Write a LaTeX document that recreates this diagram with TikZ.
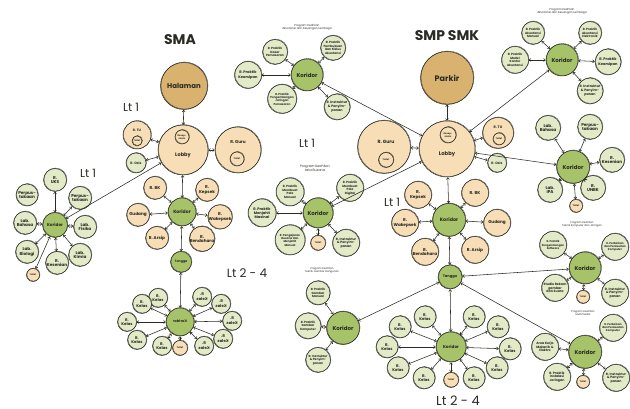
\documentclass[tikz,border=0pt]{standalone}
\usepackage{fontspec}
\usepackage{graphicx}
\setmainfont{Poppins}
\usetikzlibrary{arrows.meta}
\definecolor{gfill}{HTML}{E3EAC8}
\definecolor{kfill}{HTML}{A7C36A}
\definecolor{tfill}{HTML}{F7DEB6}
\definecolor{hfill}{HTML}{D9B26F}
\definecolor{ink}{HTML}{2B2B25}
\newcommand\myfs[2]{\fontsize{#1}{#2}\selectfont}
\newcommand\mir[1]{\reflectbox{\begin{tabular}{@{}c@{}}#1\end{tabular}}}
\tikzset{
  base/.style={circle, draw=ink, line width=0.5pt, inner sep=0pt, align=center, text=ink,
    node font=\bfseries, font=\myfs{3}{3.5},
    postaction={draw=ink, line width=0.3pt, transform canvas={shift={(0.5pt,0.45pt)}}}},
  gn/.style={base, fill=gfill},
  tn/.style={base, fill=tfill},
  hn/.style={base, fill=hfill, font=\myfs{7.5}{8}},
  kn/.style={base, fill=kfill, font=\myfs{5.5}{6}},
  ks/.style={base, fill=kfill, font=\myfs{4.2}{4.8}},
  big/.style={font=\myfs{4.2}{4.7}},
  kel/.style={font=\myfs{3.9}{4.3}},
  tiny/.style={font=\myfs{2.3}{2.7}},
  lab/.style={inner sep=0pt, text=ink, align=center},
  ttl/.style={lab, font=\myfs{2.8}{3.3}},
  lt/.style={lab, font=\myfs{11.5}{12}},
  head/.style={lab, font=\myfs{14}{16}\bfseries},
  arr/.style={{Straight Barb[length=1.8pt,width=3pt]}-{Straight Barb[length=1.8pt,width=3pt]},
    draw=ink, line width=0.55pt}
}
\begin{document}
\begin{tikzpicture}[x=1pt,y=-1pt]
\useasboundingbox (0,0) rectangle (630,409);
\fill[white] (0,0) rectangle (630,409);

% ================= SMA =================
\node[head] (tSMA) at (180,40) {SMA};
\node[lt] (lt1a) at (131,107) {Lt 1};
\node[lt] (lt1b) at (88,173) {Lt 1};
\node[lab, font=\myfs{12}{13}] (lt24a) at (247,273) {Lt 2 - 4};

\node[hn, minimum size=47pt, font=\myfs{7}{8}] (hal) at (184,86) {Halaman};
\node[tn, minimum size=50pt] (lobA) at (183,150) {};
\node[tn, minimum size=14pt, tiny] (resA) at (182,137) {Resep-\\sionis};
\node[lab, font=\myfs{5}{5.5}\bfseries] (lobAt) at (183,155) {Lobby};
\node[tn, minimum size=28pt] (tuA) at (137,135) {};
\node[lab, font=\myfs{3.3}{3.8}\bfseries] (tuAt) at (137,130) {R. TU};
\node[tn, minimum size=10pt, tiny] (tuAw) at (137,141) {Toilet};
\node[gn, minimum size=20pt, font=\myfs{3.3}{3.8}] (osA) at (136,163) {R. Osis};
\node[tn, minimum size=46pt] (guA) at (238,150) {};
\node[lab, font=\myfs{4.2}{4.8}\bfseries] (guAt) at (238,142) {R. Guru};
\node[tn, minimum size=14pt, tiny] (guAw) at (237,159) {Toilet};

% left Lt1 cluster
\node[ks, minimum size=25pt] (korL) at (55,225) {Koridor};
\node[gn, minimum size=23pt, big] (uks) at (55,180) {R.\\UKS};
\node[gn, minimum size=23pt, big] (perR) at (80,198) {Perpus-\\takaan};
\node[gn, minimum size=22pt, big] (perL) at (27,195) {Perpus-\\takaan};
\node[gn, minimum size=23pt, big] (bahA) at (25,223) {Lab.\\Bahasa};
\node[gn, minimum size=23pt, big] (fisA) at (85,227) {Lab.\\Fisika};
\node[gn, minimum size=23pt, big] (bioA) at (27,252) {Lab.\\Biologi};
\node[gn, minimum size=23pt, big] (kesA) at (57,263) {R.\\Kesenian};
\node[gn, minimum size=23pt, big] (kimA) at (80,255) {Lab.\\Kimia};
\node[tn, minimum size=13pt, tiny] (toiL) at (33,275) {Toilet};

% SMA Lt1 koridor
\node[ks, minimum size=28pt, font=\myfs{4.6}{5}] (korA) at (182,212) {Koridor};
\node[tn, minimum size=23pt, big] (bkA) at (155,188) {R. BK};
\node[tn, minimum size=23pt, big] (kepA) at (207,190) {R.\\Kepsek};
\node[tn, minimum size=23pt, big] (gudA) at (138,215) {Gudang};
\node[tn, minimum size=23pt, big] (wakA) at (220,217) {R.\\Wakepsek};
\node[tn, minimum size=23pt, big] (arsA) at (157,238) {R. Arsip};
\node[tn, minimum size=23pt, big] (benA) at (202,239) {R.\\Bendahara};
\node[ks, minimum size=21pt, font=\myfs{3.2}{3.6}] (tanA) at (181,262) {Tangga};

% SMA Lt2-4
\node[ks, minimum size=28pt, font=\myfs{3.6}{4}] (korB) at (180,322) {\mir{Koridor}};
\node[gn, minimum size=19pt, kel] (ka1) at (158,298) {R.\\Kelas};
\node[gn, minimum size=19pt, kel] (ka2) at (142,304) {R.\\Kelas};
\node[gn, minimum size=19pt, kel] (ka3) at (127,322) {R.\\Kelas};
\node[gn, minimum size=19pt, kel] (ka4) at (137,340) {R.\\Kelas};
\node[gn, minimum size=19pt, kel] (ka5) at (162,346) {R.\\Kelas};
\node[tn, minimum size=15pt, tiny] (toiB) at (180,348) {Toilet};
\node[gn, minimum size=19pt, kel] (ka6) at (202,297) {\mir{R.\\Kelas}};
\node[gn, minimum size=19pt, kel] (ka7) at (221,304) {\mir{R.\\Kelas}};
\node[gn, minimum size=19pt, kel] (ka8) at (232,321) {\mir{R.\\Kelas}};
\node[gn, minimum size=19pt, kel] (ka9) at (223,339) {\mir{R.\\Kelas}};
\node[gn, minimum size=19pt, kel] (ka10) at (204,346) {\mir{R.\\Kelas}};

% ================= SMP SMK =================
\node[head] (tSMP) at (447,36) {SMP SMK};
\node[lt] (lt1c) at (307,143) {Lt 1};
\node[lt] (lt1d) at (392,202) {Lt 1};
\node[lab, font=\myfs{13}{14}] (lt24b) at (458,401) {Lt 2 - 4};

\node[hn, minimum size=53pt, font=\myfs{8}{9}] (park) at (447,78) {Parkir};
\node[tn, minimum size=56pt] (lobS) at (447,149) {};
\node[tn, minimum size=16pt, tiny] (resS) at (448,135) {Resep-\\sionis};
\node[lab, font=\myfs{5.2}{5.8}\bfseries] (lobSt) at (447,154) {Lobby};
\node[tn, minimum size=53pt] (guS) at (384,147) {};
\node[lab, font=\myfs{4.6}{5}\bfseries] (guSt) at (386,142) {R. Guru};
\node[tn, minimum size=15pt, tiny] (guSw) at (386,160) {Toilet};
\node[tn, minimum size=31pt] (tuS) at (498,133) {};
\node[lab, font=\myfs{3.5}{4}\bfseries] (tuSt) at (498,127) {R. TU};
\node[tn, minimum size=12pt, tiny] (tuSw) at (499,139) {Toilet};
\node[gn, minimum size=19pt, font=\myfs{3.3}{3.8}] (osS) at (497,163) {R. Osis};

% Akuntansi 1 (top-left)
\node[ttl] (tAK1) at (307,27) {Program Keahlian\\Akuntansi dan Keuangan Lembaga};
\node[kn, minimum size=32pt] (korAK1) at (307,75) {Koridor};
\node[gn, minimum size=25pt] (ak1a) at (275,52) {R. Praktik\\Dasar\\Pemasaran};
\node[gn, minimum size=25pt] (ak1b) at (333,48) {R. Praktik\\Pembukuan\\dan Siklus\\Akuntansi};
\node[gn, minimum size=27pt, font=\myfs{3.6}{4.1}] (ak1c) at (248,75) {R. Praktik\\Kearsipan};
\node[gn, minimum size=29pt, font=\myfs{2.8}{3.3}] (ak1d) at (282,99) {R. Praktik\\Pengembangan\\Jaringan\\Pemasaran};
\node[gn, minimum size=26pt, font=\myfs{3.3}{3.8}] (ak1e) at (337,107) {R. Instruktur\\\& Penyim-\\panan};

% Akuntansi 2 (top-right)
\node[ttl] (tAK2) at (562,11) {Program Keahlian\\Akuntansi dan Keuangan Lembaga};
\node[kn, minimum size=32pt] (korAK2) at (562,60) {Koridor};
\node[gn, minimum size=23pt] (ak2a) at (533,33) {R. Praktik\\Akuntansi\\Manual};
\node[gn, minimum size=23pt] (ak2b) at (590,33) {R. Praktik\\Akuntansi\\Elektronik};
\node[gn, minimum size=27pt] (ak2c) at (515,60) {R. Praktik\\Model\\Kantor\\Akuntansi};
\node[gn, minimum size=26pt, font=\myfs{3.6}{4.1}] (ak2d) at (608,62) {R. Praktik\\Kearsipan};
\node[gn, minimum size=26pt, font=\myfs{3.3}{3.8}] (ak2e) at (590,91) {R. Instruktur\\\& Penyim-\\panan};

% Right Lt1 cluster
\node[kn, minimum size=33pt] (korR) at (573,167) {Koridor};
\node[gn, minimum size=25pt, big] (bahS) at (548,128) {Lab.\\Bahasa};
\node[gn, minimum size=25pt, big] (perS) at (590,127) {Perpus-\\takaan};
\node[gn, minimum size=25pt, big] (kesS) at (612,160) {R.\\Kesenian};
\node[gn, minimum size=25pt, big] (ipaS) at (550,190) {Lab.\\IPA};
\node[gn, minimum size=25pt, big] (unbS) at (593,188) {R.\\UNBK};
\node[tn, minimum size=13pt, tiny] (toiR) at (576,206) {Toilet};

% Tata Busana
\node[ttl, font=\myfs{3.3}{3.9}] (tTB) at (315,168) {Program Keahlian\\tata Busana};
\node[kn, minimum size=30pt] (korTB) at (318,213) {Koridor};
\node[gn, minimum size=28pt] (tb1) at (290,192) {R. Praktik\\Membuat\\Pola\\Manual};
\node[gn, minimum size=27pt] (tb2) at (350,188) {R. Praktik\\Membuat\\Pola\\Digital};
\node[gn, minimum size=28pt, font=\myfs{3.6}{4.1}] (tb3) at (262,213) {R. Praktik\\Menjahit\\Masinal};
\node[gn, minimum size=30pt, font=\myfs{2.8}{3.3}] (tb4) at (290,240) {R. Pengajaran\\Busana dan\\Menjahit\\Manual};
\node[tn, minimum size=15pt, tiny] (tb5) at (318,243) {Toilet};
\node[gn, minimum size=27pt, font=\myfs{3.2}{3.7}] (tb6) at (346,243) {R. Instruktur\\\& Penyim-\\panan};

% SMP Lt1 koridor
\node[kn, minimum size=33pt, font=\myfs{4.8}{5.2}] (korC) at (449,220) {Koridor};
\node[tn, minimum size=27pt, big] (kepS) at (418,195) {R.\\Kepsek};
\node[tn, minimum size=27pt, big] (bkS) at (475,193) {R. BK};
\node[tn, minimum size=27pt, big] (wakS) at (405,223) {R.\\Wakepsek};
\node[tn, minimum size=27pt, big] (gudS) at (497,223) {Gudang};
\node[tn, minimum size=27pt, big] (benS) at (425,252) {R.\\Bendahara};
\node[tn, minimum size=27pt, big] (arsS) at (475,250) {R. Arsip};
\node[ks, minimum size=24pt, font=\myfs{3.6}{4}] (tanS) at (450,277) {Tangga};

% SMP Lt2-4
\node[ks, minimum size=30pt] (korD) at (451,347) {Koridor};
\node[gn, minimum size=22pt, kel] (kb1) at (425,317) {R.\\Kelas};
\node[gn, minimum size=22pt, kel] (kb2) at (400,327) {R.\\Kelas};
\node[gn, minimum size=22pt, kel] (kb3) at (387,347) {R.\\Kelas};
\node[gn, minimum size=22pt, kel] (kb4) at (398,368) {R.\\Kelas};
\node[gn, minimum size=22pt, kel] (kb5) at (424,378) {R.\\Kelas};
\node[tn, minimum size=15pt, tiny] (toiD) at (451,380) {Toilet};
\node[gn, minimum size=22pt, kel] (kb6) at (474,378) {R.\\Kelas};
\node[gn, minimum size=22pt, kel] (kb7) at (497,368) {R.\\Kelas};
\node[gn, minimum size=22pt, kel] (kb8) at (510,349) {R.\\Kelas};
\node[gn, minimum size=22pt, kel] (kb9) at (498,327) {R.\\Kelas};
\node[gn, minimum size=22pt, kel] (kb10) at (474,317) {R.\\Kelas};

% Teknik Gambar Bangunan
\node[ttl, font=\myfs{2.6}{3.1}] (tTG) at (322,270) {Program Keahlian\\Teknik Gambar Bangunan};
\node[kn, minimum size=33pt] (korTG) at (343,328) {Koridor};
\node[gn, minimum size=24pt] (tg1) at (318,293) {R. Praktik\\Gambar\\Manual};
\node[gn, minimum size=26pt] (tg2) at (308,326) {R. Praktik\\Gambar\\Komputer};
\node[gn, minimum size=25pt] (tg3) at (318,360) {R. Instruktur\\\& Penyim-\\panan};

% Teknik Komputer dan Jaringan
\node[ttl, font=\myfs{2.6}{3.1}] (tTK) at (582,224) {Program Keahlian\\Teknik Komputer dan Jaringan};
\node[kn, minimum size=32pt] (korTK) at (585,268) {Koridor};
\node[gn, minimum size=27pt, font=\myfs{2.7}{3.2}] (tk1) at (553,245) {R. Praktik\\Pengembangan\\Software};
\node[gn, minimum size=27pt, font=\myfs{2.7}{3.2}] (tk2) at (615,247) {R. Perbaikan\\dan Perawatan\\Komputer};
\node[gn, minimum size=27pt, font=\myfs{3.2}{3.7}] (tk3) at (555,288) {Studio Rekam\\gambar\\dan Suara};
\node[tn, minimum size=13pt, tiny] (tk4) at (583,297) {Toilet};
\node[gn, minimum size=27pt, font=\myfs{3.2}{3.7}] (tk5) at (615,293) {R. Instruktur\\\& Penyim-\\panan};

% Multimedia
\node[ttl, font=\myfs{2.6}{3.1}] (tMM) at (583,313) {Program Keahlian\\Multimedia};
\node[kn, minimum size=33pt] (korMM) at (585,352) {Koridor};
\node[gn, minimum size=27pt, font=\myfs{2.7}{3.2}] (mm1) at (613,328) {R. Perbaikan\\dan Perawatan\\Komputer};
\node[gn, minimum size=27pt, font=\myfs{3.2}{3.7}] (mm2) at (545,347) {Area Kerja\\Mekanik \&\\Elektro};
\node[gn, minimum size=27pt, font=\myfs{3.2}{3.7}] (mm3) at (557,377) {R. Praktik\\Instalasi\\Jaringan};
\node[tn, minimum size=13pt, tiny] (mm4) at (583,382) {Toilet};
\node[gn, minimum size=27pt, font=\myfs{3.2}{3.7}] (mm5) at (616,378) {R. Instruktur\\\& Penyim-\\panan};

% ================= connectors =================
% SMA
\draw[arr] (hal) -- (lobA);
\draw[arr] (tuA) -- (lobA);
\draw[arr] (osA) -- (lobA);
\draw[arr] (guA) -- (lobA);
\draw[arr] (lobA) -- (korA);
\draw[arr] (korL) -- (lobA);
\foreach \n in {uks,perR,bahA,fisA,bioA,kesA,kimA,toiL} \draw[arr] (korL) -- (\n);
\foreach \n in {bkA,kepA,gudA,wakA,arsA,benA,tanA} \draw[arr] (korA) -- (\n);
\draw[arr] (tanA) -- (korB);
\foreach \n in {ka1,ka2,ka3,ka4,ka5,toiB,ka6,ka7,ka8,ka9,ka10} \draw[arr] (korB) -- (\n);
% SMP
\draw[arr] (park) -- (lobS);
\draw[arr] (guS) -- (lobS);
\draw[arr] (tuS) -- (lobS);
\draw[arr] (osS) -- (lobS);
\draw[arr] (lobS) -- (korC);
\draw[arr] (korAK1) -- (lobS);
\draw[arr] (korAK2) -- (lobS);
\draw[arr] (korR) -- (lobS);
\draw[arr] (korTB) -- (lobS);
\foreach \n in {ak1a,ak1b,ak1c,ak1d,ak1e} \draw[arr] (korAK1) -- (\n);
\foreach \n in {ak2a,ak2b,ak2c,ak2d,ak2e} \draw[arr] (korAK2) -- (\n);
\foreach \n in {bahS,perS,kesS,ipaS,unbS,toiR} \draw[arr] (korR) -- (\n);
\foreach \n in {tb1,tb2,tb3,tb4,tb5,tb6} \draw[arr] (korTB) -- (\n);
\foreach \n in {kepS,bkS,wakS,gudS,benS,arsS,tanS} \draw[arr] (korC) -- (\n);
\draw[arr] (tanS) -- (korD);
\draw[arr] (tanS) -- (korTG);
\draw[arr] (tanS) -- (korTK);
\draw[arr] (tanS) -- (korMM);
\foreach \n in {kb1,kb2,kb3,kb4,kb5,toiD,kb6,kb7,kb8,kb9,kb10} \draw[arr] (korD) -- (\n);
\foreach \n in {tg1,tg2,tg3} \draw[arr] (korTG) -- (\n);
\foreach \n in {tk1,tk2,tk3,tk4,tk5} \draw[arr] (korTK) -- (\n);
\foreach \n in {mm1,mm2,mm3,mm4,mm5} \draw[arr] (korMM) -- (\n);
\end{tikzpicture}
\end{document}
